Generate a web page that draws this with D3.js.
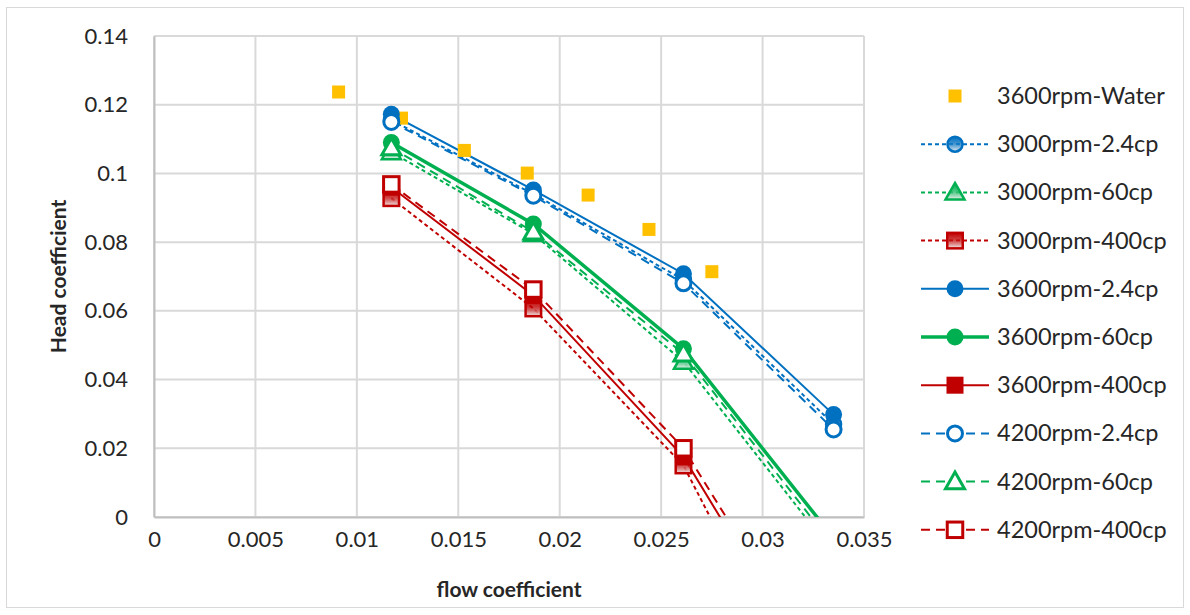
<!DOCTYPE html>
<html>
<head>
<meta charset="utf-8">
<script src="https://cdn.jsdelivr.net/npm/d3@7"></script>
<style>
  body { margin: 0; background: #fff; }
  text { font-family: Lato, "Open Sans", sans-serif; fill: #262626; }
</style>
</head>
<body>
<svg id="chart" width="1190" height="615"></svg>
<script>
// flow coefficient values shared by the pump test series
var flowWater = [0.0091, 0.0122, 0.0153, 0.0184, 0.0214, 0.0244, 0.0275];
var headWater = [0.1237, 0.1161, 0.1067, 0.1001, 0.0937, 0.0837, 0.0714];

var flowPump = [0.0117, 0.0187, 0.0261, 0.0335];

var head3000_24 = [0.1155, 0.0940, 0.0690, 0.0270];
var head3000_60 = [0.1062, 0.0824, 0.0452, -0.0105];
var head3000_400 = [0.0928, 0.0607, 0.0150, -0.0697];
var head3600_24 = [0.1172, 0.0952, 0.0708, 0.0298];
var head3600_60 = [0.1090, 0.0853, 0.0490, -0.0061];
var head3600_400 = [0.0960, 0.0645, 0.0175, -0.0544];
var head4200_24 = [0.1150, 0.0935, 0.0680, 0.0255];
var head4200_60 = [0.1075, 0.0830, 0.0475, -0.0085];
var head4200_400 = [0.0968, 0.0662, 0.0200, -0.0505];

var xTicks = [0, 0.005, 0.01, 0.015, 0.02, 0.025, 0.03, 0.035];
var yTicks = [0, 0.02, 0.04, 0.06, 0.08, 0.1, 0.12, 0.14];

var blue = "#0070c0", green = "#00b050", red = "#c00000", gold = "#ffc000";

var series = [
  {name: "3600rpm-Water", x: flowWater, y: headWater, color: gold, line: false, marker: "square", fill: "solid", size: 13},
  {name: "3000rpm-2.4cp", x: flowPump, y: head3000_24, color: blue, line: true, dash: "4,3", width: 2, marker: "circle", fill: "grad"},
  {name: "3000rpm-60cp", x: flowPump, y: head3000_60, color: green, line: true, dash: "4,3", width: 2, marker: "triangle", fill: "grad"},
  {name: "3000rpm-400cp", x: flowPump, y: head3000_400, color: red, line: true, dash: "4,3", width: 2, marker: "square", fill: "grad"},
  {name: "3600rpm-2.4cp", x: flowPump, y: head3600_24, color: blue, line: true, dash: null, width: 2, marker: "circle", fill: "solid"},
  {name: "3600rpm-60cp", x: flowPump, y: head3600_60, color: green, line: true, dash: null, width: 3.5, marker: "circle", fill: "solid"},
  {name: "3600rpm-400cp", x: flowPump, y: head3600_400, color: red, line: true, dash: null, width: 2, marker: "square", fill: "solid"},
  {name: "4200rpm-2.4cp", x: flowPump, y: head4200_24, color: blue, line: true, dash: "9,6", width: 2, marker: "circle", fill: "hollow"},
  {name: "4200rpm-60cp", x: flowPump, y: head4200_60, color: green, line: true, dash: "9,6", width: 2, marker: "triangle", fill: "hollow"},
  {name: "4200rpm-400cp", x: flowPump, y: head4200_400, color: red, line: true, dash: "9,6", width: 2, marker: "square", fill: "hollow"}
];

var svg = d3.select("#chart");
var pLeft = 154, pRight = 864, pTop = 36, pBottom = 517;

var x = d3.scaleLinear().domain([0, 0.035]).range([pLeft, pRight]);
var y = d3.scaleLinear().domain([0, 0.14]).range([pBottom, pTop]);

// outer chart border
svg.append("rect").attr("x", 6.5).attr("y", 7.5).attr("width", 1177).attr("height", 600)
  .attr("fill", "none").attr("stroke", "#d9d9d9");

var defs = svg.append("defs");
defs.append("clipPath").attr("id", "plotclip").append("rect")
  .attr("x", pLeft - 12).attr("y", pTop - 12).attr("width", pRight - pLeft + 24).attr("height", pBottom - pTop + 12);

[blue, green, red].forEach(function(c, i) {
  var g = defs.append("linearGradient").attr("id", "grad" + i)
    .attr("x1", 0).attr("y1", 0).attr("x2", 0).attr("y2", 1);
  g.append("stop").attr("offset", "0%").attr("stop-color", c);
  g.append("stop").attr("offset", "45%").attr("stop-color", c).attr("stop-opacity", 0.75);
  g.append("stop").attr("offset", "100%").attr("stop-color", "#f2f2f2");
});
function gradId(c) { return c === blue ? "grad0" : c === green ? "grad1" : "grad2"; }

// gridlines
svg.append("g").selectAll("line").data(yTicks).join("line")
  .attr("x1", pLeft).attr("x2", pRight).attr("y1", d => y(d)).attr("y2", d => y(d))
  .attr("stroke", "#d9d9d9").attr("stroke-width", 2);
svg.append("g").selectAll("line").data(xTicks).join("line")
  .attr("x1", d => x(d)).attr("x2", d => x(d)).attr("y1", pTop).attr("y2", pBottom)
  .attr("stroke", "#d9d9d9").attr("stroke-width", 2);

// axes
var xAxis = svg.append("g").attr("transform", "translate(0," + pBottom + ")")
  .call(d3.axisBottom(x).tickValues(xTicks).tickSize(0).tickPadding(14).tickFormat(d3.format("~g")));
var yAxis = svg.append("g").attr("transform", "translate(" + pLeft + ",0)")
  .call(d3.axisLeft(y).tickValues(yTicks).tickSize(0).tickPadding(26).tickFormat(d3.format("~g")));
[xAxis, yAxis].forEach(function(a) {
  a.select(".domain").attr("stroke", "#bfbfbf").attr("stroke-width", 2);
  a.selectAll("text").attr("font-size", 22).attr("fill", "#262626")
    .style("font-family", "Lato, 'Open Sans', sans-serif");
});

svg.append("text").attr("x", (pLeft + pRight) / 2).attr("y", 597).attr("text-anchor", "middle")
  .attr("font-size", 21).attr("font-weight", "bold").text("flow coefficient");
svg.append("text").attr("transform", "translate(66," + ((pTop + pBottom) / 2) + ") rotate(-90)")
  .attr("text-anchor", "middle").attr("font-size", 21).attr("font-weight", "bold").text("Head coefficient");

var lineGen = d3.line().x(d => x(d[0])).y(d => y(d[1]));

function drawMarker(g, s, cx, cy) {
  var fill = s.fill === "solid" ? s.color : s.fill === "hollow" ? "#fff" : "url(#" + gradId(s.color) + ")";
  var sw = s.fill === "solid" ? 0 : s.fill === "hollow" ? 3 : 2.5;
  var m;
  if (s.marker === "circle") {
    m = g.append("circle").attr("cx", cx).attr("cy", cy).attr("r", s.fill === "solid" ? 8.5 : 7.5);
  } else if (s.marker === "square") {
    var h = s.size || (s.fill === "solid" ? 17 : 15.5);
    m = g.append("rect").attr("x", cx - h / 2).attr("y", cy - h / 2).attr("width", h).attr("height", h);
  } else {
    var r = 9.5;
    m = g.append("path").attr("d", "M" + cx + "," + (cy - r) + "L" + (cx + r) + "," + (cy + r * 0.75) + "L" + (cx - r) + "," + (cy + r * 0.75) + "Z");
  }
  m.attr("fill", fill).attr("stroke", s.color).attr("stroke-width", sw);
}

var plot = svg.append("g").attr("clip-path", "url(#plotclip)");
series.forEach(function(s) {
  var pts = s.x.map((v, i) => [v, s.y[i]]);
  if (s.line) {
    plot.append("path").datum(pts).attr("d", lineGen).attr("fill", "none")
      .attr("stroke", s.color).attr("stroke-width", s.width)
      .attr("stroke-dasharray", s.dash);
  }
});
series.forEach(function(s) {
  var g = plot.append("g");
  s.x.forEach(function(v, i) {
    if (s.y[i] >= 0) drawMarker(g, s, x(v), y(s.y[i]));
  });
});

// legend
var legend = svg.append("g");
series.forEach(function(s, i) {
  var ly = 96 + i * 48.2;
  var g = legend.append("g");
  if (s.line) {
    g.append("line").attr("x1", 921).attr("x2", 989).attr("y1", ly).attr("y2", ly)
      .attr("stroke", s.color).attr("stroke-width", s.width).attr("stroke-dasharray", s.dash);
  }
  drawMarker(g, s, 955, ly);
  g.append("text").attr("x", 997).attr("y", ly + 8).attr("font-size", 23.5).text(s.name);
});
</script>
</body>
</html>
